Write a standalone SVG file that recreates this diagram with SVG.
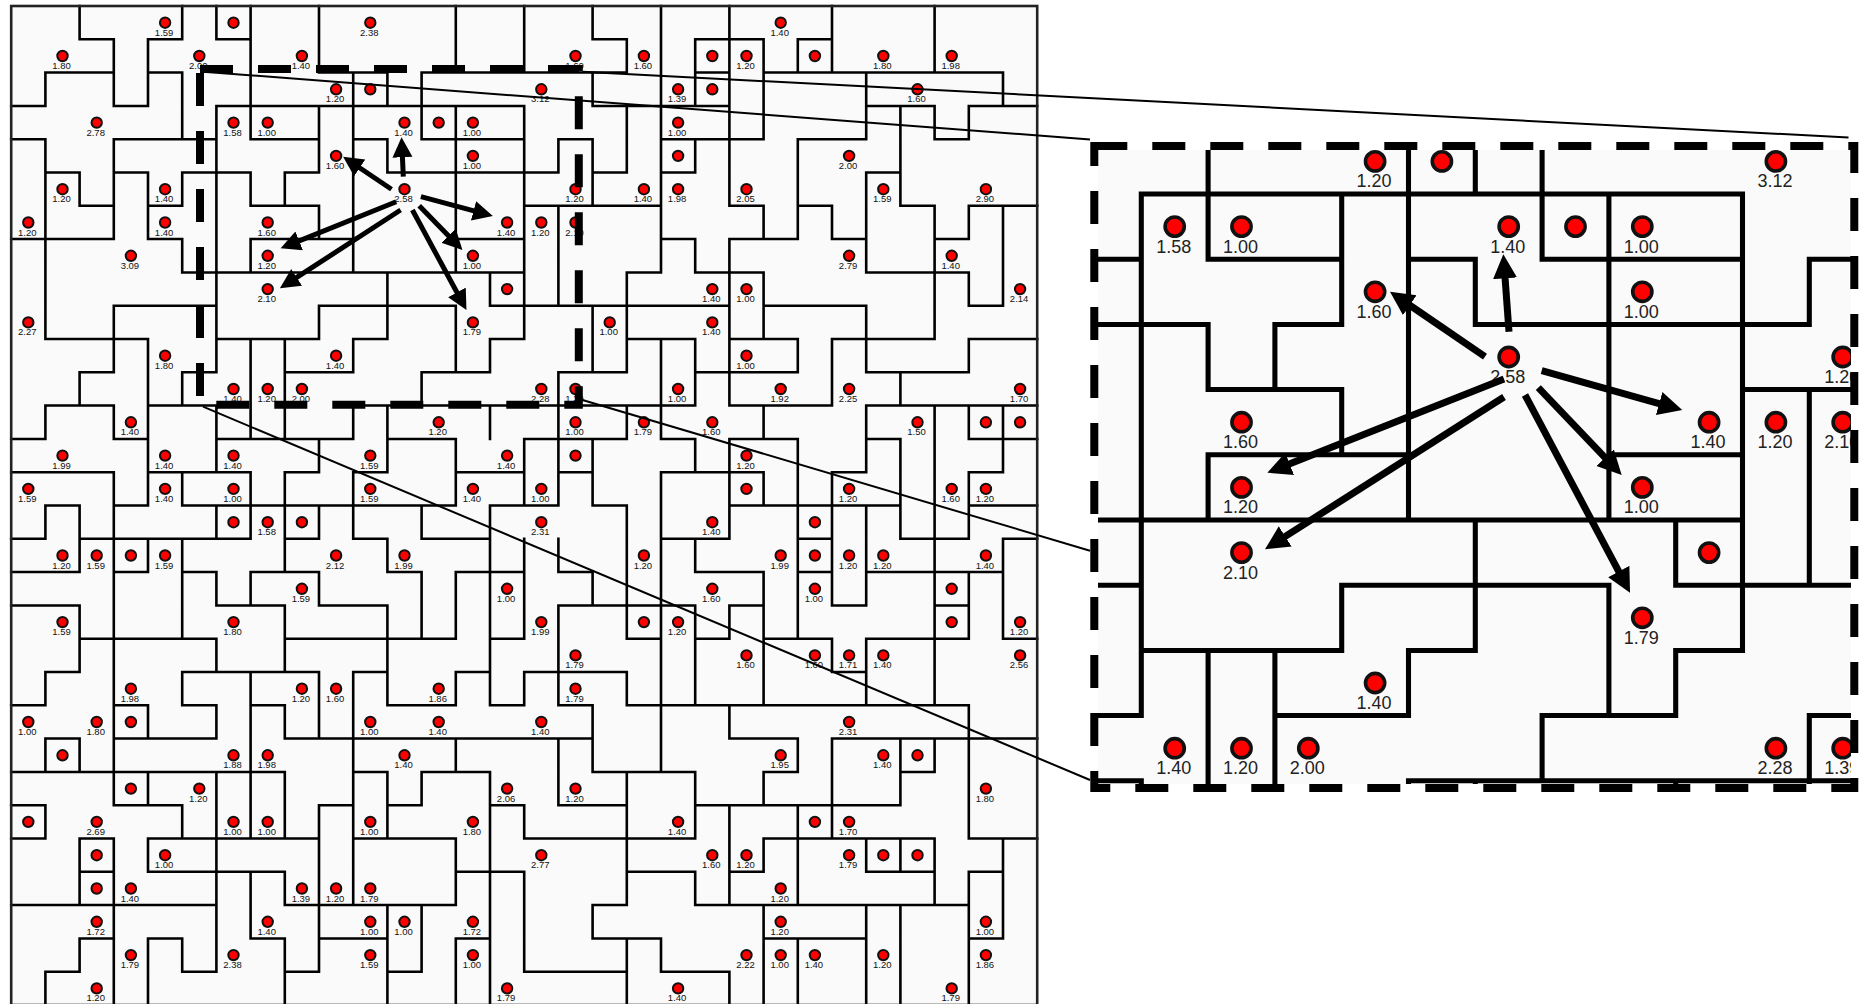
<svg xmlns="http://www.w3.org/2000/svg" xmlns:xlink="http://www.w3.org/1999/xlink" width="1869" height="1004" viewBox="0 0 1869 1004">
<style>
.wall{fill:none;stroke:#000;stroke-width:.076;stroke-linecap:square}
.panel{fill:#fafafa}
.frame{fill:none;stroke:#000;stroke-width:8;stroke-dasharray:33 25}
.a circle{fill:#f00;stroke:#111;stroke-width:2}
.a text{font:9.5px "Liberation Sans",Arial,sans-serif;fill:#111;text-anchor:middle}
.b circle{fill:#f00;stroke:#111;stroke-width:3.6}
.b text{font:18px "Liberation Sans",Arial,sans-serif;fill:#222;text-anchor:middle}
.link{stroke:#000;stroke-width:2;fill:none}
.arr1{stroke:#000;stroke-width:5;fill:none;marker-end:url(#h1)}
.arr2{stroke:#000;stroke-width:7;fill:none;marker-end:url(#h2)}
</style>
<defs>
<marker id="h1" markerUnits="userSpaceOnUse" markerWidth="22" markerHeight="22" refX="10" refY="10" orient="auto"><path d="M0 0L20 10L0 20Z" fill="#000"/></marker>
<marker id="h2" markerUnits="userSpaceOnUse" markerWidth="26" markerHeight="26" refX="12" refY="12" orient="auto"><path d="M0 0L24 12L0 24Z" fill="#000"/></marker>
<clipPath id="insetClip"><rect x="1098" y="150" width="753" height="634"/></clipPath>
<path id="walls" class="wall" d="M2 1H3M4 1H5M6 1H7M17 1H18M20 1H22M23 1H24
M1 2H3M4 2H5M9 2H11M12 2H18M20 2H21M22 2H29
M0 3H1M3 3H4M6 3H15M17 3H21M25 3H27M28 3H30
M0 4H1M3 4H6M7 4H9M10 4H11M12 4H15M16 4H17M19 4H22M23 4H25M27 4H28
M1 5H2M3 5H4M5 5H7M8 5H9M11 5H16M17 5H18M19 5H20M25 5H26
M2 6H3M4 6H5M7 6H9M15 6H19M21 6H22M23 6H24M26 6H27M28 6H30
M0 7H3M4 7H5M7 7H10M13 7H15M19 7H20M21 7H23M24 7H25M27 7H28
M5 8H15M18 8H19M20 8H22M25 8H28
M3 9H6M9 9H13M14 9H21M22 9H25M28 9H29
M1 10H4M6 10H9M10 10H11M14 10H15M18 10H20M21 10H23M24 10H27M28 10H30
M2 11H3M5 11H6M8 11H10M12 11H14M16 11H18M20 11H23M25 11H28
M1 12H3M4 12H6M10 12H20M21 12H24M25 12H30
M0 13H1M3 13H4M6 13H10M11 13H13M15 13H18M19 13H20M21 13H23M25 13H26M28 13H30
M0 14H3M4 14H7M8 14H9M10 14H11M13 14H15M16 14H17M19 14H22M24 14H25M28 14H29
M1 15H2M3 15H4M5 15H13M14 15H16M17 15H18M21 15H26M28 15H30
M0 16H1M2 16H7M8 16H9M10 16H11M12 16H14M19 16H21M23 16H24M26 16H28M29 16H30
M0 17H2M3 17H4M5 17H6M7 17H9M11 17H12M13 17H15M16 17H17M20 17H22M23 17H24M25 17H29
M0 18H2M6 18H8M9 18H11M16 18H20M21 18H22M24 18H25M27 18H28
M2 19H6M8 19H13M14 19H15M18 19H19M20 19H21M22 19H24M25 19H28M29 19H30
M1 20H2M5 20H9M10 20H11M13 20H14M15 20H18M24 20H25
M0 21H1M3 21H4M5 21H6M7 21H8M11 21H13M14 21H15M16 21H17M18 21H28
M1 22H2M3 22H6M8 22H17M21 22H23M24 22H30
M0 23H8M10 23H11M12 23H14M17 23H20M22 23H23M26 23H27
M0 24H1M3 24H5M9 24H10M11 24H12M14 24H15M16 24H18M20 24H26
M0 25H1M2 25H3M4 25H9M10 25H13M15 25H20M22 25H27M28 25H30
M2 26H3M4 26H8M13 26H15M18 26H20M21 26H22M25 26H27M28 26H29
M0 27H6M8 27H13M17 27H18M20 27H28
M2 28H3M4 28H5M7 28H8M9 28H11M13 28H14M17 28H19M22 28H25M28 28H29
M1 29H2M5 29H6M8 29H9M11 29H12M15 29H18M19 29H21
M1 2V3M1 4V10M1 12V13M1 15V16M1 20V21M1 22V23M1 24V25M1 29V30
M2 0V1M2 5V6M2 11V12M2 15V17M2 18V20M2 22V23M2 25V27M2 28V29
M3 1V3M3 4V7M3 9V11M3 12V13M3 14V24M3 25V30
M4 1V3M4 5V7M4 10V15M4 16V17M4 21V22M4 23V24M4 25V26M4 28V30
M5 0V1M5 2V4M5 5V6M5 7V8M5 11V12M5 14V15M5 16V19M5 20V21M5 24V25M5 28V29
M6 0V1M6 3V11M6 12V14M6 15V16M6 17V18M6 19V20M6 21V22M6 23V29
M7 0V4M7 5V6M7 7V8M7 10V13M7 14V16M7 17V18M7 20V25M7 26V28
M8 5V6M8 10V13M8 14V17M8 18V20M8 21V22M8 23V25M8 26V27M8 28V30
M9 0V2M9 3V5M9 6V7M9 9V10M9 13V14M9 15V16M9 17V18M9 20V22M9 24V29
M10 2V8M10 10V11M10 12V13M10 14V16M10 20V27
M11 2V3M11 4V5M11 8V10M11 12V14M11 16V17M11 18V21M11 23V25M11 27V30
M12 2V4M12 11V12M12 15V16M12 17V19M12 23V24M12 27V29
M13 0V2M13 3V8M13 9V11M13 13V15M13 17V19M13 20V21M13 22V23M13 25V27M13 28V30
M14 8V9M14 10V11M14 12V13M14 15V21M14 23V30
M15 0V2M15 3V10M15 13V15M15 16V19M15 20V21M15 24V25M15 26V29
M16 4V5M16 6V9M16 11V15M16 16V17M16 18V21M16 22V24
M17 0V1M17 2V3M17 4V6M17 9V11M17 13V15M17 17V18M17 21V23M17 27V28
M18 1V2M18 3V5M18 8V11M18 12V13M18 15V19M18 20V21M18 23V27M18 28V30
M19 0V8M19 10V13M19 14V23M19 28V29
M20 1V3M20 4V5M20 7V8M20 10V12M20 13V14M20 16V17M20 18V21M20 23V25M20 26V27
M21 0V6M21 7V12M21 13V16M21 18V19M21 21V22M21 24V27M21 29V30
M22 1V4M22 6V7M22 8V10M22 12V13M22 14V15M22 17V21M22 23V24M22 25V26M22 27V30
M23 1V2M23 4V7M23 10V11M23 13V19M23 22V23M23 24V27M23 28V30
M24 0V2M24 6V7M24 10V12M24 14V18M24 19V20M24 22V25
M25 2V4M25 5V8M25 9V11M25 12V14M25 15V18M25 19V21M25 25V26M25 27V30
M26 3V6M26 11V12M26 13V16M26 22V24M26 25V26M26 27V30
M27 0V2M27 3V4M27 6V10M27 12V21M27 22V23M27 25V27
M28 3V4M28 6V7M28 8V9M28 10V11M28 12V13M28 14V16M28 17V19M28 21V25M28 26V30
M29 2V3M29 6V9M29 12V14M29 16V19M29 25V28"/>
</defs>

<rect class="panel" x="11.2" y="6" width="1026" height="999"/>
<use href="#walls" transform="translate(11.2 6) scale(34.2 33.3)"/>
<rect x="11.2" y="6" width="1026" height="999" fill="none" stroke="#222" stroke-width="2.6"/>

<g id="map-nodes" class="a">
<g id="n4-0" transform="translate(165.1 22.7)"><circle r="5.2"/><text x="-1" y="13">1.59</text></g>
<g id="n6-0" transform="translate(233.5 22.7)"><circle r="5.2"/></g>
<g id="n10-0" transform="translate(370.3 22.7)"><circle r="5.2"/><text x="-1" y="13">2.38</text></g>
<g id="n22-0" transform="translate(780.7 22.7)"><circle r="5.2"/><text x="-1" y="13">1.40</text></g>
<g id="n1-1" transform="translate(62.5 56)"><circle r="5.2"/><text x="-1" y="13">1.80</text></g>
<g id="n5-1" transform="translate(199.3 56)"><circle r="5.2"/><text x="-1" y="13">2.00</text></g>
<g id="n8-1" transform="translate(301.9 56)"><circle r="5.2"/><text x="-1" y="13">1.40</text></g>
<g id="n16-1" transform="translate(575.5 56)"><circle r="5.2"/><text x="-1" y="13">1.60</text></g>
<g id="n18-1" transform="translate(643.9 56)"><circle r="5.2"/><text x="-1" y="13">1.60</text></g>
<g id="n20-1" transform="translate(712.3 56)"><circle r="5.2"/></g>
<g id="n21-1" transform="translate(746.5 56)"><circle r="5.2"/><text x="-1" y="13">1.20</text></g>
<g id="n23-1" transform="translate(814.9 56)"><circle r="5.2"/></g>
<g id="n25-1" transform="translate(883.3 56)"><circle r="5.2"/><text x="-1" y="13">1.80</text></g>
<g id="n27-1" transform="translate(951.7 56)"><circle r="5.2"/><text x="-1" y="13">1.98</text></g>
<g id="n9-2" transform="translate(336.1 89.3)"><circle r="5.2"/><text x="-1" y="13">1.20</text></g>
<g id="n10-2" transform="translate(370.3 89.3)"><circle r="5.2"/></g>
<g id="n15-2" transform="translate(541.3 89.3)"><circle r="5.2"/><text x="-1" y="13">3.12</text></g>
<g id="n19-2" transform="translate(678.1 89.3)"><circle r="5.2"/><text x="-1" y="13">1.39</text></g>
<g id="n20-2" transform="translate(712.3 89.3)"><circle r="5.2"/></g>
<g id="n26-2" transform="translate(917.5 89.3)"><circle r="5.2"/><text x="-1" y="13">1.60</text></g>
<g id="n2-3" transform="translate(96.7 122.6)"><circle r="5.2"/><text x="-1" y="13">2.78</text></g>
<g id="n6-3" transform="translate(233.5 122.6)"><circle r="5.2"/><text x="-1" y="13">1.58</text></g>
<g id="n7-3" transform="translate(267.7 122.6)"><circle r="5.2"/><text x="-1" y="13">1.00</text></g>
<g id="n11-3" transform="translate(404.5 122.6)"><circle r="5.2"/><text x="-1" y="13">1.40</text></g>
<g id="n12-3" transform="translate(438.7 122.6)"><circle r="5.2"/></g>
<g id="n13-3" transform="translate(472.9 122.6)"><circle r="5.2"/><text x="-1" y="13">1.00</text></g>
<g id="n19-3" transform="translate(678.1 122.6)"><circle r="5.2"/><text x="-1" y="13">1.00</text></g>
<g id="n9-4" transform="translate(336.1 155.9)"><circle r="5.2"/><text x="-1" y="13">1.60</text></g>
<g id="n13-4" transform="translate(472.9 155.9)"><circle r="5.2"/><text x="-1" y="13">1.00</text></g>
<g id="n19-4" transform="translate(678.1 155.9)"><circle r="5.2"/></g>
<g id="n24-4" transform="translate(849.1 155.9)"><circle r="5.2"/><text x="-1" y="13">2.00</text></g>
<g id="n1-5" transform="translate(62.5 189.2)"><circle r="5.2"/><text x="-1" y="13">1.20</text></g>
<g id="n4-5" transform="translate(165.1 189.2)"><circle r="5.2"/><text x="-1" y="13">1.40</text></g>
<g id="n11-5" transform="translate(404.5 189.2)"><circle r="5.2"/><text x="-1" y="13">2.58</text></g>
<g id="n16-5" transform="translate(575.5 189.2)"><circle r="5.2"/><text x="-1" y="13">1.20</text></g>
<g id="n18-5" transform="translate(643.9 189.2)"><circle r="5.2"/><text x="-1" y="13">1.40</text></g>
<g id="n19-5" transform="translate(678.1 189.2)"><circle r="5.2"/><text x="-1" y="13">1.98</text></g>
<g id="n21-5" transform="translate(746.5 189.2)"><circle r="5.2"/><text x="-1" y="13">2.05</text></g>
<g id="n25-5" transform="translate(883.3 189.2)"><circle r="5.2"/><text x="-1" y="13">1.59</text></g>
<g id="n28-5" transform="translate(985.9 189.2)"><circle r="5.2"/><text x="-1" y="13">2.90</text></g>
<g id="n0-6" transform="translate(28.3 222.5)"><circle r="5.2"/><text x="-1" y="13">1.20</text></g>
<g id="n4-6" transform="translate(165.1 222.5)"><circle r="5.2"/><text x="-1" y="13">1.40</text></g>
<g id="n7-6" transform="translate(267.7 222.5)"><circle r="5.2"/><text x="-1" y="13">1.60</text></g>
<g id="n14-6" transform="translate(507.1 222.5)"><circle r="5.2"/><text x="-1" y="13">1.40</text></g>
<g id="n15-6" transform="translate(541.3 222.5)"><circle r="5.2"/><text x="-1" y="13">1.20</text></g>
<g id="n16-6" transform="translate(575.5 222.5)"><circle r="5.2"/><text x="-1" y="13">2.10</text></g>
<g id="n3-7" transform="translate(130.9 255.8)"><circle r="5.2"/><text x="-1" y="13">3.09</text></g>
<g id="n7-7" transform="translate(267.7 255.8)"><circle r="5.2"/><text x="-1" y="13">1.20</text></g>
<g id="n13-7" transform="translate(472.9 255.8)"><circle r="5.2"/><text x="-1" y="13">1.00</text></g>
<g id="n24-7" transform="translate(849.1 255.8)"><circle r="5.2"/><text x="-1" y="13">2.79</text></g>
<g id="n27-7" transform="translate(951.7 255.8)"><circle r="5.2"/><text x="-1" y="13">1.40</text></g>
<g id="n7-8" transform="translate(267.7 289.1)"><circle r="5.2"/><text x="-1" y="13">2.10</text></g>
<g id="n14-8" transform="translate(507.1 289.1)"><circle r="5.2"/></g>
<g id="n20-8" transform="translate(712.3 289.1)"><circle r="5.2"/><text x="-1" y="13">1.40</text></g>
<g id="n21-8" transform="translate(746.5 289.1)"><circle r="5.2"/><text x="-1" y="13">1.00</text></g>
<g id="n29-8" transform="translate(1020.1 289.1)"><circle r="5.2"/><text x="-1" y="13">2.14</text></g>
<g id="n0-9" transform="translate(28.3 322.4)"><circle r="5.2"/><text x="-1" y="13">2.27</text></g>
<g id="n13-9" transform="translate(472.9 322.4)"><circle r="5.2"/><text x="-1" y="13">1.79</text></g>
<g id="n17-9" transform="translate(609.7 322.4)"><circle r="5.2"/><text x="-1" y="13">1.00</text></g>
<g id="n20-9" transform="translate(712.3 322.4)"><circle r="5.2"/><text x="-1" y="13">1.40</text></g>
<g id="n4-10" transform="translate(165.1 355.7)"><circle r="5.2"/><text x="-1" y="13">1.80</text></g>
<g id="n9-10" transform="translate(336.1 355.7)"><circle r="5.2"/><text x="-1" y="13">1.40</text></g>
<g id="n21-10" transform="translate(746.5 355.7)"><circle r="5.2"/><text x="-1" y="13">1.00</text></g>
<g id="n6-11" transform="translate(233.5 389)"><circle r="5.2"/><text x="-1" y="13">1.40</text></g>
<g id="n7-11" transform="translate(267.7 389)"><circle r="5.2"/><text x="-1" y="13">1.20</text></g>
<g id="n8-11" transform="translate(301.9 389)"><circle r="5.2"/><text x="-1" y="13">2.00</text></g>
<g id="n15-11" transform="translate(541.3 389)"><circle r="5.2"/><text x="-1" y="13">2.28</text></g>
<g id="n16-11" transform="translate(575.5 389)"><circle r="5.2"/><text x="-1" y="13">1.39</text></g>
<g id="n19-11" transform="translate(678.1 389)"><circle r="5.2"/><text x="-1" y="13">1.00</text></g>
<g id="n22-11" transform="translate(780.7 389)"><circle r="5.2"/><text x="-1" y="13">1.92</text></g>
<g id="n24-11" transform="translate(849.1 389)"><circle r="5.2"/><text x="-1" y="13">2.25</text></g>
<g id="n29-11" transform="translate(1020.1 389)"><circle r="5.2"/><text x="-1" y="13">1.70</text></g>
<g id="n3-12" transform="translate(130.9 422.3)"><circle r="5.2"/><text x="-1" y="13">1.40</text></g>
<g id="n12-12" transform="translate(438.7 422.3)"><circle r="5.2"/><text x="-1" y="13">1.20</text></g>
<g id="n16-12" transform="translate(575.5 422.3)"><circle r="5.2"/><text x="-1" y="13">1.00</text></g>
<g id="n18-12" transform="translate(643.9 422.3)"><circle r="5.2"/><text x="-1" y="13">1.79</text></g>
<g id="n20-12" transform="translate(712.3 422.3)"><circle r="5.2"/><text x="-1" y="13">1.60</text></g>
<g id="n26-12" transform="translate(917.5 422.3)"><circle r="5.2"/><text x="-1" y="13">1.50</text></g>
<g id="n28-12" transform="translate(985.9 422.3)"><circle r="5.2"/></g>
<g id="n29-12" transform="translate(1020.1 422.3)"><circle r="5.2"/></g>
<g id="n1-13" transform="translate(62.5 455.6)"><circle r="5.2"/><text x="-1" y="13">1.99</text></g>
<g id="n4-13" transform="translate(165.1 455.6)"><circle r="5.2"/><text x="-1" y="13">1.40</text></g>
<g id="n6-13" transform="translate(233.5 455.6)"><circle r="5.2"/><text x="-1" y="13">1.40</text></g>
<g id="n10-13" transform="translate(370.3 455.6)"><circle r="5.2"/><text x="-1" y="13">1.59</text></g>
<g id="n14-13" transform="translate(507.1 455.6)"><circle r="5.2"/><text x="-1" y="13">1.40</text></g>
<g id="n16-13" transform="translate(575.5 455.6)"><circle r="5.2"/></g>
<g id="n21-13" transform="translate(746.5 455.6)"><circle r="5.2"/><text x="-1" y="13">1.20</text></g>
<g id="n0-14" transform="translate(28.3 488.9)"><circle r="5.2"/><text x="-1" y="13">1.59</text></g>
<g id="n4-14" transform="translate(165.1 488.9)"><circle r="5.2"/><text x="-1" y="13">1.40</text></g>
<g id="n6-14" transform="translate(233.5 488.9)"><circle r="5.2"/><text x="-1" y="13">1.00</text></g>
<g id="n10-14" transform="translate(370.3 488.9)"><circle r="5.2"/><text x="-1" y="13">1.59</text></g>
<g id="n13-14" transform="translate(472.9 488.9)"><circle r="5.2"/><text x="-1" y="13">1.40</text></g>
<g id="n15-14" transform="translate(541.3 488.9)"><circle r="5.2"/><text x="-1" y="13">1.00</text></g>
<g id="n21-14" transform="translate(746.5 488.9)"><circle r="5.2"/></g>
<g id="n24-14" transform="translate(849.1 488.9)"><circle r="5.2"/><text x="-1" y="13">1.20</text></g>
<g id="n27-14" transform="translate(951.7 488.9)"><circle r="5.2"/><text x="-1" y="13">1.60</text></g>
<g id="n28-14" transform="translate(985.9 488.9)"><circle r="5.2"/><text x="-1" y="13">1.20</text></g>
<g id="n6-15" transform="translate(233.5 522.2)"><circle r="5.2"/></g>
<g id="n7-15" transform="translate(267.7 522.2)"><circle r="5.2"/><text x="-1" y="13">1.58</text></g>
<g id="n8-15" transform="translate(301.9 522.2)"><circle r="5.2"/></g>
<g id="n15-15" transform="translate(541.3 522.2)"><circle r="5.2"/><text x="-1" y="13">2.31</text></g>
<g id="n20-15" transform="translate(712.3 522.2)"><circle r="5.2"/><text x="-1" y="13">1.40</text></g>
<g id="n23-15" transform="translate(814.9 522.2)"><circle r="5.2"/></g>
<g id="n1-16" transform="translate(62.5 555.5)"><circle r="5.2"/><text x="-1" y="13">1.20</text></g>
<g id="n2-16" transform="translate(96.7 555.5)"><circle r="5.2"/><text x="-1" y="13">1.59</text></g>
<g id="n3-16" transform="translate(130.9 555.5)"><circle r="5.2"/></g>
<g id="n4-16" transform="translate(165.1 555.5)"><circle r="5.2"/><text x="-1" y="13">1.59</text></g>
<g id="n9-16" transform="translate(336.1 555.5)"><circle r="5.2"/><text x="-1" y="13">2.12</text></g>
<g id="n11-16" transform="translate(404.5 555.5)"><circle r="5.2"/><text x="-1" y="13">1.99</text></g>
<g id="n18-16" transform="translate(643.9 555.5)"><circle r="5.2"/><text x="-1" y="13">1.20</text></g>
<g id="n22-16" transform="translate(780.7 555.5)"><circle r="5.2"/><text x="-1" y="13">1.99</text></g>
<g id="n23-16" transform="translate(814.9 555.5)"><circle r="5.2"/></g>
<g id="n24-16" transform="translate(849.1 555.5)"><circle r="5.2"/><text x="-1" y="13">1.20</text></g>
<g id="n25-16" transform="translate(883.3 555.5)"><circle r="5.2"/><text x="-1" y="13">1.20</text></g>
<g id="n28-16" transform="translate(985.9 555.5)"><circle r="5.2"/><text x="-1" y="13">1.40</text></g>
<g id="n8-17" transform="translate(301.9 588.8)"><circle r="5.2"/><text x="-1" y="13">1.59</text></g>
<g id="n14-17" transform="translate(507.1 588.8)"><circle r="5.2"/><text x="-1" y="13">1.00</text></g>
<g id="n20-17" transform="translate(712.3 588.8)"><circle r="5.2"/><text x="-1" y="13">1.60</text></g>
<g id="n23-17" transform="translate(814.9 588.8)"><circle r="5.2"/><text x="-1" y="13">1.00</text></g>
<g id="n27-17" transform="translate(951.7 588.8)"><circle r="5.2"/></g>
<g id="n1-18" transform="translate(62.5 622.1)"><circle r="5.2"/><text x="-1" y="13">1.59</text></g>
<g id="n6-18" transform="translate(233.5 622.1)"><circle r="5.2"/><text x="-1" y="13">1.80</text></g>
<g id="n15-18" transform="translate(541.3 622.1)"><circle r="5.2"/><text x="-1" y="13">1.99</text></g>
<g id="n18-18" transform="translate(643.9 622.1)"><circle r="5.2"/></g>
<g id="n19-18" transform="translate(678.1 622.1)"><circle r="5.2"/><text x="-1" y="13">1.20</text></g>
<g id="n27-18" transform="translate(951.7 622.1)"><circle r="5.2"/></g>
<g id="n29-18" transform="translate(1020.1 622.1)"><circle r="5.2"/><text x="-1" y="13">1.20</text></g>
<g id="n16-19" transform="translate(575.5 655.4)"><circle r="5.2"/><text x="-1" y="13">1.79</text></g>
<g id="n21-19" transform="translate(746.5 655.4)"><circle r="5.2"/><text x="-1" y="13">1.60</text></g>
<g id="n23-19" transform="translate(814.9 655.4)"><circle r="5.2"/><text x="-1" y="13">1.60</text></g>
<g id="n24-19" transform="translate(849.1 655.4)"><circle r="5.2"/><text x="-1" y="13">1.71</text></g>
<g id="n25-19" transform="translate(883.3 655.4)"><circle r="5.2"/><text x="-1" y="13">1.40</text></g>
<g id="n29-19" transform="translate(1020.1 655.4)"><circle r="5.2"/><text x="-1" y="13">2.56</text></g>
<g id="n3-20" transform="translate(130.9 688.7)"><circle r="5.2"/><text x="-1" y="13">1.98</text></g>
<g id="n8-20" transform="translate(301.9 688.7)"><circle r="5.2"/><text x="-1" y="13">1.20</text></g>
<g id="n9-20" transform="translate(336.1 688.7)"><circle r="5.2"/><text x="-1" y="13">1.60</text></g>
<g id="n12-20" transform="translate(438.7 688.7)"><circle r="5.2"/><text x="-1" y="13">1.86</text></g>
<g id="n16-20" transform="translate(575.5 688.7)"><circle r="5.2"/><text x="-1" y="13">1.79</text></g>
<g id="n0-21" transform="translate(28.3 722)"><circle r="5.2"/><text x="-1" y="13">1.00</text></g>
<g id="n2-21" transform="translate(96.7 722)"><circle r="5.2"/><text x="-1" y="13">1.80</text></g>
<g id="n3-21" transform="translate(130.9 722)"><circle r="5.2"/></g>
<g id="n10-21" transform="translate(370.3 722)"><circle r="5.2"/><text x="-1" y="13">1.00</text></g>
<g id="n12-21" transform="translate(438.7 722)"><circle r="5.2"/><text x="-1" y="13">1.40</text></g>
<g id="n15-21" transform="translate(541.3 722)"><circle r="5.2"/><text x="-1" y="13">1.40</text></g>
<g id="n24-21" transform="translate(849.1 722)"><circle r="5.2"/><text x="-1" y="13">2.31</text></g>
<g id="n1-22" transform="translate(62.5 755.3)"><circle r="5.2"/></g>
<g id="n6-22" transform="translate(233.5 755.3)"><circle r="5.2"/><text x="-1" y="13">1.88</text></g>
<g id="n7-22" transform="translate(267.7 755.3)"><circle r="5.2"/><text x="-1" y="13">1.98</text></g>
<g id="n11-22" transform="translate(404.5 755.3)"><circle r="5.2"/><text x="-1" y="13">1.40</text></g>
<g id="n22-22" transform="translate(780.7 755.3)"><circle r="5.2"/><text x="-1" y="13">1.95</text></g>
<g id="n25-22" transform="translate(883.3 755.3)"><circle r="5.2"/><text x="-1" y="13">1.40</text></g>
<g id="n26-22" transform="translate(917.5 755.3)"><circle r="5.2"/></g>
<g id="n3-23" transform="translate(130.9 788.6)"><circle r="5.2"/></g>
<g id="n5-23" transform="translate(199.3 788.6)"><circle r="5.2"/><text x="-1" y="13">1.20</text></g>
<g id="n14-23" transform="translate(507.1 788.6)"><circle r="5.2"/><text x="-1" y="13">2.06</text></g>
<g id="n16-23" transform="translate(575.5 788.6)"><circle r="5.2"/><text x="-1" y="13">1.20</text></g>
<g id="n28-23" transform="translate(985.9 788.6)"><circle r="5.2"/><text x="-1" y="13">1.80</text></g>
<g id="n0-24" transform="translate(28.3 821.9)"><circle r="5.2"/></g>
<g id="n2-24" transform="translate(96.7 821.9)"><circle r="5.2"/><text x="-1" y="13">2.69</text></g>
<g id="n6-24" transform="translate(233.5 821.9)"><circle r="5.2"/><text x="-1" y="13">1.00</text></g>
<g id="n7-24" transform="translate(267.7 821.9)"><circle r="5.2"/><text x="-1" y="13">1.00</text></g>
<g id="n10-24" transform="translate(370.3 821.9)"><circle r="5.2"/><text x="-1" y="13">1.00</text></g>
<g id="n13-24" transform="translate(472.9 821.9)"><circle r="5.2"/><text x="-1" y="13">1.80</text></g>
<g id="n19-24" transform="translate(678.1 821.9)"><circle r="5.2"/><text x="-1" y="13">1.40</text></g>
<g id="n23-24" transform="translate(814.9 821.9)"><circle r="5.2"/></g>
<g id="n24-24" transform="translate(849.1 821.9)"><circle r="5.2"/><text x="-1" y="13">1.70</text></g>
<g id="n2-25" transform="translate(96.7 855.2)"><circle r="5.2"/></g>
<g id="n4-25" transform="translate(165.1 855.2)"><circle r="5.2"/><text x="-1" y="13">1.00</text></g>
<g id="n15-25" transform="translate(541.3 855.2)"><circle r="5.2"/><text x="-1" y="13">2.77</text></g>
<g id="n20-25" transform="translate(712.3 855.2)"><circle r="5.2"/><text x="-1" y="13">1.60</text></g>
<g id="n21-25" transform="translate(746.5 855.2)"><circle r="5.2"/><text x="-1" y="13">1.20</text></g>
<g id="n24-25" transform="translate(849.1 855.2)"><circle r="5.2"/><text x="-1" y="13">1.79</text></g>
<g id="n25-25" transform="translate(883.3 855.2)"><circle r="5.2"/></g>
<g id="n26-25" transform="translate(917.5 855.2)"><circle r="5.2"/></g>
<g id="n2-26" transform="translate(96.7 888.5)"><circle r="5.2"/></g>
<g id="n3-26" transform="translate(130.9 888.5)"><circle r="5.2"/><text x="-1" y="13">1.40</text></g>
<g id="n8-26" transform="translate(301.9 888.5)"><circle r="5.2"/><text x="-1" y="13">1.39</text></g>
<g id="n9-26" transform="translate(336.1 888.5)"><circle r="5.2"/><text x="-1" y="13">1.20</text></g>
<g id="n10-26" transform="translate(370.3 888.5)"><circle r="5.2"/><text x="-1" y="13">1.79</text></g>
<g id="n22-26" transform="translate(780.7 888.5)"><circle r="5.2"/><text x="-1" y="13">1.20</text></g>
<g id="n2-27" transform="translate(96.7 921.8)"><circle r="5.2"/><text x="-1" y="13">1.72</text></g>
<g id="n7-27" transform="translate(267.7 921.8)"><circle r="5.2"/><text x="-1" y="13">1.40</text></g>
<g id="n10-27" transform="translate(370.3 921.8)"><circle r="5.2"/><text x="-1" y="13">1.00</text></g>
<g id="n11-27" transform="translate(404.5 921.8)"><circle r="5.2"/><text x="-1" y="13">1.00</text></g>
<g id="n13-27" transform="translate(472.9 921.8)"><circle r="5.2"/><text x="-1" y="13">1.72</text></g>
<g id="n22-27" transform="translate(780.7 921.8)"><circle r="5.2"/><text x="-1" y="13">1.20</text></g>
<g id="n28-27" transform="translate(985.9 921.8)"><circle r="5.2"/><text x="-1" y="13">1.00</text></g>
<g id="n3-28" transform="translate(130.9 955.1)"><circle r="5.2"/><text x="-1" y="13">1.79</text></g>
<g id="n6-28" transform="translate(233.5 955.1)"><circle r="5.2"/><text x="-1" y="13">2.38</text></g>
<g id="n10-28" transform="translate(370.3 955.1)"><circle r="5.2"/><text x="-1" y="13">1.59</text></g>
<g id="n13-28" transform="translate(472.9 955.1)"><circle r="5.2"/><text x="-1" y="13">1.00</text></g>
<g id="n21-28" transform="translate(746.5 955.1)"><circle r="5.2"/><text x="-1" y="13">2.22</text></g>
<g id="n22-28" transform="translate(780.7 955.1)"><circle r="5.2"/><text x="-1" y="13">1.00</text></g>
<g id="n23-28" transform="translate(814.9 955.1)"><circle r="5.2"/><text x="-1" y="13">1.40</text></g>
<g id="n25-28" transform="translate(883.3 955.1)"><circle r="5.2"/><text x="-1" y="13">1.20</text></g>
<g id="n28-28" transform="translate(985.9 955.1)"><circle r="5.2"/><text x="-1" y="13">1.86</text></g>
<g id="n2-29" transform="translate(96.7 988.4)"><circle r="5.2"/><text x="-1" y="13">1.20</text></g>
<g id="n14-29" transform="translate(507.1 988.4)"><circle r="5.2"/><text x="-1" y="13">1.79</text></g>
<g id="n19-29" transform="translate(678.1 988.4)"><circle r="5.2"/><text x="-1" y="13">1.40</text></g>
<g id="n27-29" transform="translate(951.7 988.4)"><circle r="5.2"/><text x="-1" y="13">1.79</text></g>
</g>

<g clip-path="url(#insetClip)">
<rect class="panel" x="1098" y="150" width="753" height="634"/>
<use href="#walls" transform="translate(740.5 -1.6) scale(66.8 65.2)"/>
<g id="inset-nodes" class="b">
<g id="i9-2" transform="translate(1375.1 161.4)"><circle r="9.6"/><text x="-1" y="26">1.20</text></g>
<g id="i10-2" transform="translate(1441.9 161.4)"><circle r="9.6"/></g>
<g id="i15-2" transform="translate(1775.9 161.4)"><circle r="9.6"/><text x="-1" y="26">3.12</text></g>
<g id="i6-3" transform="translate(1174.7 226.6)"><circle r="9.6"/><text x="-1" y="26">1.58</text></g>
<g id="i7-3" transform="translate(1241.5 226.6)"><circle r="9.6"/><text x="-1" y="26">1.00</text></g>
<g id="i11-3" transform="translate(1508.7 226.6)"><circle r="9.6"/><text x="-1" y="26">1.40</text></g>
<g id="i12-3" transform="translate(1575.5 226.6)"><circle r="9.6"/></g>
<g id="i13-3" transform="translate(1642.3 226.6)"><circle r="9.6"/><text x="-1" y="26">1.00</text></g>
<g id="i9-4" transform="translate(1375.1 291.8)"><circle r="9.6"/><text x="-1" y="26">1.60</text></g>
<g id="i13-4" transform="translate(1642.3 291.8)"><circle r="9.6"/><text x="-1" y="26">1.00</text></g>
<g id="i11-5" transform="translate(1508.7 357)"><circle r="9.6"/><text x="-1" y="26">2.58</text></g>
<g id="i16-5" transform="translate(1842.7 357)"><circle r="9.6"/><text x="-1" y="26">1.20</text></g>
<g id="i7-6" transform="translate(1241.5 422.2)"><circle r="9.6"/><text x="-1" y="26">1.60</text></g>
<g id="i14-6" transform="translate(1709.1 422.2)"><circle r="9.6"/><text x="-1" y="26">1.40</text></g>
<g id="i15-6" transform="translate(1775.9 422.2)"><circle r="9.6"/><text x="-1" y="26">1.20</text></g>
<g id="i16-6" transform="translate(1842.7 422.2)"><circle r="9.6"/><text x="-1" y="26">2.10</text></g>
<g id="i7-7" transform="translate(1241.5 487.4)"><circle r="9.6"/><text x="-1" y="26">1.20</text></g>
<g id="i13-7" transform="translate(1642.3 487.4)"><circle r="9.6"/><text x="-1" y="26">1.00</text></g>
<g id="i7-8" transform="translate(1241.5 552.6)"><circle r="9.6"/><text x="-1" y="26">2.10</text></g>
<g id="i14-8" transform="translate(1709.1 552.6)"><circle r="9.6"/></g>
<g id="i13-9" transform="translate(1642.3 617.8)"><circle r="9.6"/><text x="-1" y="26">1.79</text></g>
<g id="i9-10" transform="translate(1375.1 683)"><circle r="9.6"/><text x="-1" y="26">1.40</text></g>
<g id="i6-11" transform="translate(1174.7 748.2)"><circle r="9.6"/><text x="-1" y="26">1.40</text></g>
<g id="i7-11" transform="translate(1241.5 748.2)"><circle r="9.6"/><text x="-1" y="26">1.20</text></g>
<g id="i8-11" transform="translate(1308.3 748.2)"><circle r="9.6"/><text x="-1" y="26">2.00</text></g>
<g id="i15-11" transform="translate(1775.9 748.2)"><circle r="9.6"/><text x="-1" y="26">2.28</text></g>
<g id="i16-11" transform="translate(1842.7 748.2)"><circle r="9.6"/><text x="-1" y="26">1.39</text></g>
</g>
</g>

<g id="connectors">
<rect class="frame" x="200" y="69" width="378.8" height="335.7"/>
<rect class="frame" x="1094.3" y="146" width="760" height="642"/>
<line class="link" x1="203" y1="71.7" x2="1090" y2="139.5"/>
<line class="link" x1="582.5" y1="71.7" x2="1848.5" y2="137.5"/>
<line class="link" x1="203" y1="406.7" x2="1090" y2="780"/>
<line class="link" x1="582.5" y1="400" x2="1090" y2="550.7"/>
<line class="arr1" x1="391.5" y1="189.3" x2="351.4" y2="162.3"/>
<line class="arr1" x1="403.3" y1="176.7" x2="402" y2="147.3"/>
<line class="arr1" x1="420.9" y1="196.7" x2="483.2" y2="213.4"/>
<line class="arr1" x1="419.2" y1="205.7" x2="455.5" y2="242.9"/>
<line class="arr1" x1="412.4" y1="210" x2="461.7" y2="301.2"/>
<line class="arr1" x1="396.2" y1="201.7" x2="289.9" y2="244.6"/>
<line class="arr1" x1="400.6" y1="210" x2="288.3" y2="282.9"/>
<line class="arr2" x1="1485" y1="356.7" x2="1399.9" y2="298.5"/>
<line class="arr2" x1="1509" y1="331.7" x2="1504.2" y2="266.3"/>
<line class="arr2" x1="1541.7" y1="370.7" x2="1670.7" y2="406.8"/>
<line class="arr2" x1="1538.3" y1="387.7" x2="1613.4" y2="466.3"/>
<line class="arr2" x1="1525" y1="395" x2="1624.4" y2="582.1"/>
<line class="arr2" x1="1504" y1="379" x2="1278.5" y2="468.3"/>
<line class="arr2" x1="1504" y1="397" x2="1275.1" y2="542.9"/>
</g>
</svg>
